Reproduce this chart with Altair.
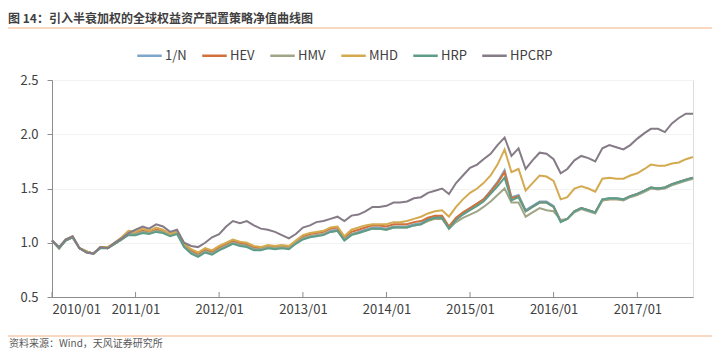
import altair as alt
import pandas as pd

# ---------------- data ----------------
months = [f"{2010 + i // 12}/{i % 12 + 1:02d}/01" for i in range(93)]
series_names = ["1/N", "HEV", "HMV", "MHD", "HRP", "HPCRP"]
series_colors = ["#7EA6C8", "#D2703A", "#A0A587", "#D4AA50", "#5E9C8A", "#857B86"]

one_n = [1.02, 0.95, 1.02, 1.05, 0.95, 0.92, 0.90, 0.96, 0.95, 0.99, 1.03, 1.08,
         1.08, 1.10, 1.09, 1.11, 1.10, 1.07, 1.09, 0.98, 0.92, 0.89, 0.93, 0.91,
         0.95, 0.98, 1.01, 0.99, 0.98, 0.95, 0.94, 0.96, 0.95, 0.96, 0.95, 1.00,
         1.04, 1.06, 1.07, 1.08, 1.11, 1.12, 1.03, 1.08, 1.10, 1.12, 1.14, 1.14,
         1.13, 1.15, 1.15, 1.15, 1.17, 1.18, 1.22, 1.24, 1.24, 1.14, 1.22, 1.27,
         1.32, 1.36, 1.40, 1.48, 1.56, 1.67, 1.42, 1.44, 1.30, 1.34, 1.38, 1.38,
         1.34, 1.20, 1.22, 1.29, 1.32, 1.30, 1.28, 1.40, 1.41, 1.41, 1.40, 1.43,
         1.45, 1.48, 1.51, 1.50, 1.51, 1.54, 1.56, 1.58, 1.60]

hev = [1.02, 0.95, 1.02, 1.05, 0.95, 0.92, 0.90, 0.96, 0.95, 0.99, 1.03, 1.08,
       1.09, 1.11, 1.10, 1.12, 1.11, 1.08, 1.10, 0.99, 0.93, 0.90, 0.94, 0.92,
       0.96, 0.99, 1.02, 1.00, 0.99, 0.96, 0.95, 0.97, 0.96, 0.97, 0.96, 1.01,
       1.06, 1.08, 1.09, 1.10, 1.13, 1.14, 1.05, 1.10, 1.12, 1.14, 1.16, 1.16,
       1.15, 1.17, 1.17, 1.17, 1.19, 1.20, 1.23, 1.25, 1.25, 1.15, 1.23, 1.28,
       1.32, 1.36, 1.40, 1.47, 1.55, 1.65, 1.41, 1.43, 1.29, 1.33, 1.37, 1.37,
       1.33, 1.20, 1.22, 1.29, 1.32, 1.30, 1.28, 1.39, 1.40, 1.40, 1.40, 1.43,
       1.45, 1.48, 1.51, 1.50, 1.51, 1.54, 1.56, 1.58, 1.60]

hmv = [1.02, 0.95, 1.02, 1.05, 0.95, 0.92, 0.90, 0.96, 0.95, 0.99, 1.03, 1.08,
       1.08, 1.10, 1.09, 1.11, 1.10, 1.07, 1.09, 0.97, 0.91, 0.88, 0.92, 0.90,
       0.94, 0.97, 1.00, 0.98, 0.97, 0.94, 0.94, 0.96, 0.95, 0.96, 0.95, 1.00,
       1.04, 1.06, 1.07, 1.08, 1.10, 1.11, 1.03, 1.08, 1.09, 1.11, 1.13, 1.13,
       1.12, 1.14, 1.14, 1.14, 1.16, 1.17, 1.20, 1.22, 1.22, 1.13, 1.19, 1.23,
       1.26, 1.29, 1.33, 1.38, 1.44, 1.50, 1.37, 1.37, 1.24, 1.28, 1.32, 1.30,
       1.29, 1.21, 1.22, 1.28, 1.31, 1.29, 1.27, 1.39, 1.40, 1.40, 1.39, 1.42,
       1.44, 1.47, 1.50, 1.49, 1.50, 1.53, 1.55, 1.57, 1.59]

mhd = [1.02, 0.95, 1.03, 1.06, 0.95, 0.92, 0.90, 0.96, 0.96, 1.00, 1.05, 1.11,
       1.10, 1.13, 1.11, 1.14, 1.12, 1.08, 1.10, 0.99, 0.94, 0.91, 0.95, 0.93,
       0.97, 1.00, 1.03, 1.01, 1.00, 0.97, 0.96, 0.98, 0.97, 0.98, 0.97, 1.02,
       1.07, 1.09, 1.10, 1.11, 1.14, 1.15, 1.06, 1.12, 1.14, 1.16, 1.17, 1.17,
       1.17, 1.19, 1.19, 1.20, 1.22, 1.24, 1.27, 1.29, 1.30, 1.24, 1.33, 1.40,
       1.46, 1.50, 1.55, 1.62, 1.72, 1.86, 1.65, 1.68, 1.48, 1.55, 1.62, 1.61,
       1.57, 1.40, 1.42, 1.50, 1.52, 1.50, 1.47, 1.59, 1.60, 1.59, 1.59, 1.62,
       1.64, 1.68, 1.72, 1.71, 1.71, 1.73, 1.74, 1.77, 1.79]

hrp = [1.02, 0.95, 1.02, 1.05, 0.95, 0.91, 0.90, 0.95, 0.95, 0.99, 1.03, 1.07,
       1.07, 1.09, 1.08, 1.10, 1.09, 1.06, 1.08, 0.96, 0.90, 0.87, 0.91, 0.89,
       0.93, 0.96, 0.99, 0.97, 0.96, 0.93, 0.93, 0.95, 0.94, 0.95, 0.94, 0.99,
       1.03, 1.05, 1.06, 1.07, 1.10, 1.11, 1.02, 1.07, 1.09, 1.11, 1.13, 1.13,
       1.12, 1.14, 1.14, 1.14, 1.16, 1.17, 1.21, 1.23, 1.23, 1.13, 1.21, 1.26,
       1.30, 1.34, 1.38, 1.45, 1.52, 1.60, 1.39, 1.42, 1.29, 1.33, 1.37, 1.37,
       1.33, 1.19, 1.22, 1.29, 1.32, 1.30, 1.28, 1.40, 1.41, 1.41, 1.40, 1.43,
       1.45, 1.48, 1.51, 1.50, 1.51, 1.54, 1.56, 1.58, 1.60]

hpcrp = [1.02, 0.96, 1.03, 1.06, 0.95, 0.91, 0.90, 0.96, 0.95, 1.00, 1.04, 1.09,
         1.12, 1.15, 1.13, 1.17, 1.15, 1.10, 1.12, 1.00, 0.97, 0.96, 1.00, 1.05,
         1.08, 1.15, 1.20, 1.18, 1.20, 1.16, 1.13, 1.12, 1.10, 1.07, 1.04, 1.08,
         1.14, 1.16, 1.19, 1.20, 1.22, 1.24, 1.20, 1.25, 1.26, 1.29, 1.33, 1.33,
         1.34, 1.37, 1.37, 1.38, 1.41, 1.42, 1.46, 1.48, 1.50, 1.45, 1.55, 1.62,
         1.69, 1.72, 1.77, 1.82, 1.90, 1.97, 1.80, 1.87, 1.68, 1.76, 1.83, 1.82,
         1.77, 1.64, 1.68, 1.76, 1.80, 1.78, 1.75, 1.87, 1.90, 1.88, 1.86, 1.90,
         1.96, 2.01, 2.05, 2.05, 2.02, 2.10, 2.15, 2.19, 2.19]

tick_dates = [f"{y}/01/01" for y in range(2010, 2018)]
y_ticks = [0.5, 1.0, 1.5, 2.0, 2.5]

title_text = "图 14：引入半衰加权的全球权益资产配置策略净值曲线图"
source_text = "资料来源：Wind，天风证券研究所"

rows = []
for name, vals in zip(series_names, [one_n, hev, hmv, mhd, hrp, hpcrp]):
    for d, v in zip(months, vals):
        rows.append({"date": d, "series": name, "value": v})
df = pd.DataFrame(rows)

FONT = "Noto Sans CJK SC"
W, H = 641, 217

x_scale = alt.Scale(domain=[alt.DateTime(year=2010, month=1, date=1),
                            alt.DateTime(year=2017, month=9, date=1)])
y_scale = alt.Scale(domain=[0.5, 2.5], nice=False)

lines = alt.Chart(df).mark_line(strokeWidth=2, interpolate="linear").encode(
    x=alt.X("date:T", scale=x_scale, title=None,
            axis=alt.Axis(values=[alt.DateTime(year=y, month=1, date=1) for y in range(2010, 2018)],
                          format="%Y/%m", tickSize=0, labelPadding=6, grid=False,
                          domainColor="#8C8C8C", labelColor="#404040", labelFontSize=13,
                          labelFont=FONT)),
    y=alt.Y("value:Q", scale=y_scale, title=None,
            axis=alt.Axis(values=y_ticks, format=".1f", tickSize=5, tickColor="#8C8C8C",
                          labelPadding=9, domainColor="#8C8C8C", labelColor="#404040",
                          labelFontSize=13, labelFont=FONT, grid=True, gridColor="#F2F2F2")),
    color=alt.Color("series:N", sort=series_names,
                    scale=alt.Scale(domain=series_names, range=series_colors),
                    legend=alt.Legend(orient="none", legendX=84, legendY=-38,
                                      direction="horizontal", title=None,
                                      symbolType="stroke", symbolStrokeWidth=2.5,
                                      symbolSize=600, labelFontSize=13, labelFont=FONT,
                                      labelColor="#404040", columnPadding=10,
                                      labelOffset=2)),
    order=alt.Order("date:T"),
)

ticks_df = pd.DataFrame({"date": tick_dates})
xticks = alt.Chart(ticks_df).mark_rule(color="#8C8C8C", strokeWidth=1).encode(
    x=alt.X("date:T", scale=x_scale),
    y=alt.value(H),
    y2=alt.value(H - 5),
)

one = pd.DataFrame({"t": [title_text], "s": [source_text]})
title = alt.Chart(one).mark_text(align="left", baseline="middle", fontSize=12,
                                 fontWeight="bold", font=FONT, color="#3F3F3F").encode(
    x=alt.value(-44), y=alt.value(-61), text="t:N")
source = alt.Chart(one).mark_text(align="left", baseline="middle", fontSize=10,
                                  font=FONT, color="#595959").encode(
    x=alt.value(-43), y=alt.value(264), text="s:N")
top_rule = alt.Chart(one).mark_rule(color="#F4B183", strokeWidth=1).encode(
    x=alt.value(-44), x2=alt.value(W + 19), y=alt.value(-52))
bottom_rule = alt.Chart(one).mark_rule(color="#F4B183", strokeWidth=1).encode(
    x=alt.value(-44), x2=alt.value(W + 19), y=alt.value(256))

chart = alt.layer(lines, xticks, title, source, top_rule, bottom_rule).properties(
    width=W, height=H,
    autosize=alt.AutoSizeParams(type="none"),
    padding={"left": 44, "top": 72, "right": 19, "bottom": 53},
).configure_view(stroke=None).configure(background="white")

chart.save("out.html", embed_options={"renderer": "svg", "actions": False})
